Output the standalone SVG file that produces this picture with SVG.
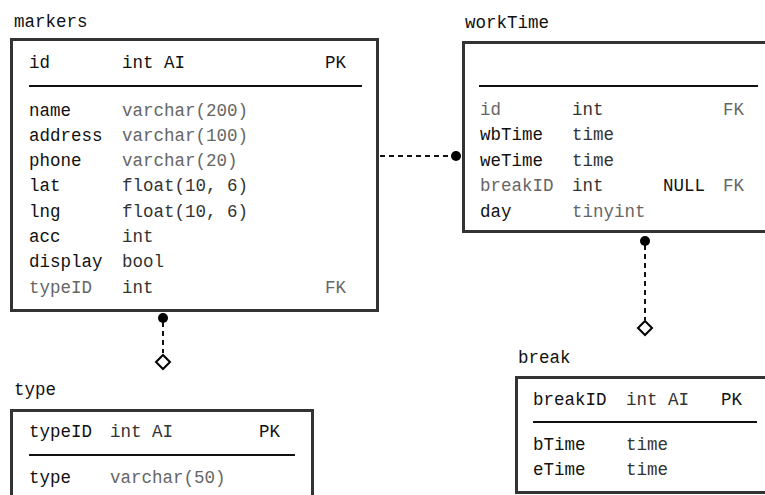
<svg xmlns="http://www.w3.org/2000/svg" width="765" height="495" viewBox="0 0 765 495">
<style>
text{font-family:"Liberation Mono","DejaVu Sans Mono",monospace;font-size:17.5px;fill:#111}
.g{fill:#666}
.t{fill:#333}
.title{fill:#111}
.box{fill:#fff;stroke:#333;stroke-width:3}
.sep{stroke:#111;stroke-width:2}
.conn{stroke:#111;stroke-width:2;stroke-dasharray:5,4;fill:none}
.dot{fill:#000}
.dia{fill:#fff;stroke:#000;stroke-width:2}
</style>
<rect width="765" height="495" fill="#fff"/>
<g id="connectors">
<line class="conn" x1="380" y1="156" x2="452" y2="156"/>
<circle class="dot" cx="456" cy="156" r="5"/>
<line class="conn" x1="163" y1="322" x2="163" y2="353"/>
<circle class="dot" cx="163" cy="318" r="5"/>
<path class="dia" d="M163,355 L170,362 L163,369 L156,362 Z"/>
<line class="conn" x1="645" y1="245" x2="645" y2="320"/>
<circle class="dot" cx="645" cy="241" r="5"/>
<path class="dia" d="M645,321 L652,328 L645,335 L638,328 Z"/>
</g>
<g id="markers">
<text class="title" x="14" y="27">markers</text>
<rect class="box" x="11.5" y="39.5" width="366" height="271"/>
<text x="29" y="68">id</text><text x="122" y="68">int AI</text><text x="325" y="68">PK</text>
<line class="sep" x1="29" y1="86" x2="362" y2="86"/>
<text x="29" y="115.5">name</text><text class="g" x="122" y="115.5">varchar(200)</text>
<text x="29" y="140.8">address</text><text class="g" x="122" y="140.8">varchar(100)</text>
<text x="29" y="166">phone</text><text class="g" x="122" y="166">varchar(20)</text>
<text x="29" y="191.4">lat</text><text class="t" x="122" y="191.4">float(10, 6)</text>
<text x="29" y="216.7">lng</text><text class="t" x="122" y="216.7">float(10, 6)</text>
<text x="29" y="242">acc</text><text class="t" x="122" y="242">int</text>
<text x="29" y="267.3">display</text><text class="t" x="122" y="267.3">bool</text>
<text class="g" x="29" y="292.6">typeID</text><text class="t" x="122" y="292.6">int</text><text class="g" x="325" y="292.6">FK</text>
</g>
<g id="workTime">
<text class="title" x="465" y="28">workTime</text>
<rect class="box" x="463.5" y="42.5" width="320" height="189"/>
<line class="sep" x1="479" y1="86" x2="758" y2="86"/>
<text class="g" x="480" y="115">id</text><text class="t" x="572" y="115">int</text><text class="g" x="723" y="115">FK</text>
<text x="480" y="140.3">wbTime</text><text class="t" x="572" y="140.3">time</text>
<text x="480" y="165.6">weTime</text><text class="t" x="572" y="165.6">time</text>
<text class="g" x="480" y="191">breakID</text><text class="t" x="572" y="191">int</text><text x="663" y="191">NULL</text><text class="g" x="723" y="191">FK</text>
<text x="480" y="216.5">day</text><text class="g" x="572" y="216.5">tinyint</text>
</g>
<g id="break">
<text class="title" x="518" y="363">break</text>
<rect class="box" x="516.5" y="377.5" width="270" height="115"/>
<text x="533" y="405">breakID</text><text class="t" x="626" y="405">int AI</text><text x="721" y="405">PK</text>
<line class="sep" x1="533" y1="422" x2="757" y2="422"/>
<text x="533" y="450">bTime</text><text class="t" x="626" y="450">time</text>
<text x="533" y="475">eTime</text><text class="t" x="626" y="475">time</text>
</g>
<g id="type">
<text class="title" x="14" y="395">type</text>
<rect class="box" x="11.5" y="410.5" width="301" height="100"/>
<text x="29" y="437">typeID</text><text class="t" x="110" y="437">int AI</text><text x="259" y="437">PK</text>
<line class="sep" x1="29" y1="455" x2="295" y2="455"/>
<text x="29" y="483">type</text><text class="g" x="110" y="483">varchar(50)</text>
</g>
</svg>
